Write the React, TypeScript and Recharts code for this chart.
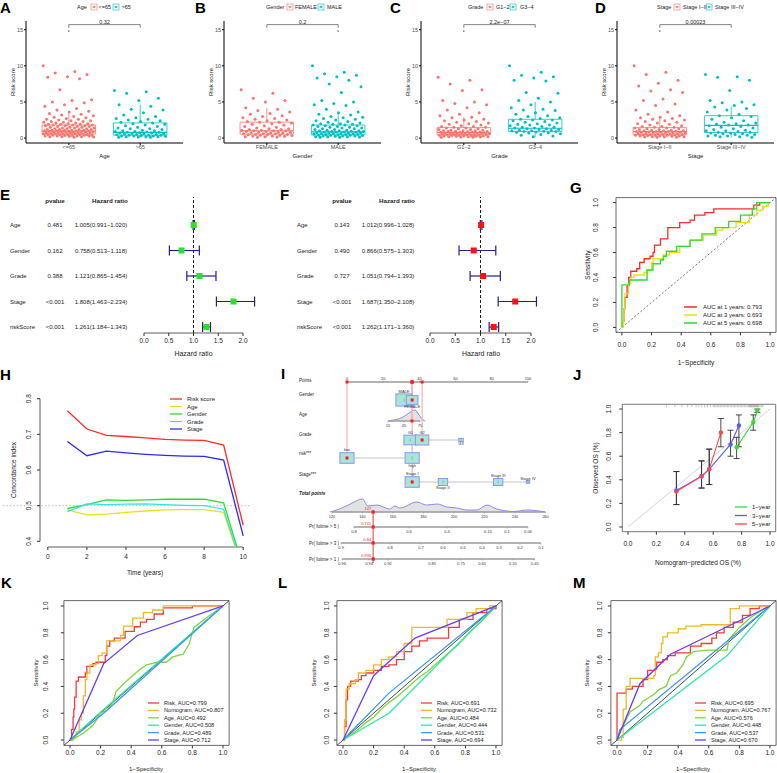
import React from 'react';
import {
  ComposedChart, Line, Scatter, Area, XAxis, YAxis,
  ReferenceLine, ReferenceArea, ErrorBar,
} from 'recharts';

const FONT = '"Liberation Sans", Arial, Helvetica, sans-serif';
const GG_RED = '#F8766D';
const GG_TEAL = '#00BFC4';

// ---------- A-D : risk score by clinical group ----------
const ageGroups = ['<=65', '>65'];
const ageLow = [10.0, 9.2, 9.0, 8.8, 8.5, 8.4, 8.2, 6.7, 5.3, 5.2, 5.0, 4.9, 4.6, 4.4, 4.1, 3.9, 3.7, 3.6, 3.4, 3.3, 3.2, 3.1, 3.0, 2.9, 2.8, 2.7, 2.6, 2.6, 2.5, 2.4, 2.4, 2.3, 2.3, 2.2, 2.2, 2.1, 2.1, 2.0, 2.0, 1.9, 1.9, 1.9, 1.8, 1.8, 1.8, 1.7, 1.7, 1.7, 1.6, 1.6, 1.6, 1.5, 1.5, 1.5, 1.4, 1.4, 1.4, 1.3, 1.3, 1.3, 1.2, 1.2, 1.2, 1.2, 1.1, 1.1, 1.1, 1.1, 1.0, 1.0, 1.0, 1.0, 0.95, 0.9, 0.9, 0.9, 0.85, 0.8, 0.8, 0.8, 0.8, 0.75, 0.7, 0.7, 0.7, 0.7, 0.65, 0.6, 0.6, 0.6, 0.6, 0.55, 0.5, 0.5, 0.5, 0.5, 0.45, 0.4, 0.4, 0.4, 0.4, 0.35, 0.3, 0.3, 0.3, 0.3, 0.25, 0.2, 0.2, 0.2, 0.15, 0.1];
const ageHigh = [6.6, 6.4, 6.2, 5.5, 5.2, 4.6, 4.4, 4.0, 3.9, 3.5, 3.2, 3.0, 2.8, 2.7, 2.6, 2.5, 2.4, 2.3, 2.2, 2.1, 2.0, 1.9, 1.8, 1.7, 1.6, 1.5, 1.4, 1.3, 1.3, 1.2, 1.1, 1.0, 1.0, 0.9, 0.9, 0.85, 0.8, 0.8, 0.75, 0.7, 0.7, 0.65, 0.6, 0.6, 0.55, 0.5, 0.5, 0.45, 0.4, 0.4, 0.4, 0.35, 0.3, 0.3, 0.3, 0.25, 0.2, 0.2, 0.2, 0.15, 0.1, 0.1];
const ageStats = [
  { lo: 0.1, q1: 0.55, med: 0.95, q3: 1.8, hi: 3.6 },
  { lo: 0.1, q1: 0.4, med: 0.8, q3: 2.1, hi: 4.6 },
];

const genderGroups = ['FEMALE', 'MALE'];
const female = [6.7, 6.2, 5.5, 5.2, 5.0, 4.2, 4.0, 3.8, 3.6, 3.4, 3.3, 3.1, 3.0, 2.8, 2.7, 2.6, 2.5, 2.4, 2.3, 2.2, 2.2, 2.1, 2.0, 1.9, 1.8, 1.7, 1.6, 1.5, 1.4, 1.3, 1.3, 1.2, 1.2, 1.1, 1.1, 1.0, 1.0, 1.0, 0.9, 0.9, 0.8, 0.8, 0.8, 0.7, 0.7, 0.7, 0.6, 0.6, 0.6, 0.5, 0.5, 0.5, 0.45, 0.4, 0.4, 0.35, 0.3, 0.3, 0.25, 0.2, 0.2, 0.15, 0.1];
const male = [10.0, 9.1, 8.9, 8.7, 8.5, 8.3, 8.0, 7.5, 7.1, 6.3, 5.2, 5.0, 4.8, 4.6, 4.5, 4.0, 3.6, 3.5, 3.3, 3.2, 3.0, 2.9, 2.8, 2.7, 2.6, 2.5, 2.4, 2.3, 2.2, 2.1, 2.0, 2.0, 1.9, 1.9, 1.8, 1.8, 1.7, 1.7, 1.6, 1.6, 1.5, 1.5, 1.4, 1.4, 1.3, 1.3, 1.2, 1.2, 1.1, 1.1, 1.0, 1.0, 1.0, 0.95, 0.9, 0.9, 0.85, 0.8, 0.8, 0.8, 0.75, 0.7, 0.7, 0.7, 0.65, 0.6, 0.6, 0.6, 0.55, 0.5, 0.5, 0.5, 0.45, 0.4, 0.4, 0.4, 0.35, 0.3, 0.3, 0.3, 0.25, 0.2, 0.2, 0.2, 0.15, 0.1, 0.1];
const genderStats = [
  { lo: 0.1, q1: 0.55, med: 1.0, q3: 2.2, hi: 4.2 },
  { lo: 0.1, q1: 0.45, med: 0.86, q3: 1.8, hi: 3.6 },
];

const gradeGroups = ['G1\u22122', 'G3\u22124'];
const gradeLow = [8.4, 8.0, 7.5, 6.7, 6.6, 5.2, 5.0, 4.8, 4.6, 4.2, 3.9, 3.5, 3.3, 3.1, 2.9, 2.8, 2.6, 2.5, 2.4, 2.3, 2.2, 2.1, 2.0, 1.9, 1.8, 1.7, 1.6, 1.6, 1.5, 1.5, 1.4, 1.4, 1.3, 1.3, 1.2, 1.2, 1.1, 1.1, 1.0, 1.0, 1.0, 0.95, 0.9, 0.9, 0.9, 0.85, 0.8, 0.8, 0.8, 0.75, 0.75, 0.7, 0.7, 0.7, 0.65, 0.65, 0.6, 0.6, 0.6, 0.55, 0.55, 0.5, 0.5, 0.5, 0.45, 0.45, 0.4, 0.4, 0.4, 0.35, 0.35, 0.3, 0.3, 0.3, 0.25, 0.25, 0.2, 0.2, 0.2, 0.15, 0.15, 0.1, 0.1];
const gradeHigh = [10.0, 9.1, 8.7, 8.5, 8.3, 8.0, 7.9, 6.3, 6.2, 5.5, 5.2, 5.0, 4.6, 4.2, 4.0, 3.9, 3.8, 3.5, 3.3, 3.1, 3.0, 2.8, 2.7, 2.6, 2.5, 2.5, 2.4, 2.3, 2.2, 2.1, 2.0, 1.9, 1.8, 1.8, 1.7, 1.6, 1.5, 1.5, 1.4, 1.4, 1.3, 1.3, 1.2, 1.2, 1.1, 1.1, 1.0, 1.0, 0.95, 0.9, 0.9, 0.85, 0.8, 0.75, 0.7, 0.6, 0.5, 0.4, 0.3, 0.2];
const gradeStats = [
  { lo: 0.1, q1: 0.45, med: 0.77, q3: 1.45, hi: 2.9 },
  { lo: 0.2, q1: 0.9, med: 1.36, q3: 2.6, hi: 5.0 },
];

const stageGroups = ['Stage I\u2212II', 'Stage III\u2212IV'];
const stageLow = [10.0, 9.1, 8.8, 8.0, 7.6, 7.2, 6.7, 6.5, 6.3, 5.4, 5.2, 4.7, 4.5, 3.9, 3.6, 3.3, 3.1, 2.9, 2.8, 2.7, 2.6, 2.5, 2.4, 2.3, 2.2, 2.1, 2.0, 1.9, 1.8, 1.7, 1.6, 1.6, 1.5, 1.5, 1.4, 1.4, 1.3, 1.3, 1.2, 1.2, 1.1, 1.1, 1.0, 1.0, 1.0, 0.95, 0.9, 0.9, 0.9, 0.85, 0.8, 0.8, 0.8, 0.75, 0.7, 0.7, 0.7, 0.65, 0.6, 0.6, 0.6, 0.55, 0.5, 0.5, 0.5, 0.45, 0.45, 0.4, 0.4, 0.4, 0.35, 0.3, 0.3, 0.3, 0.25, 0.2, 0.2, 0.2, 0.15, 0.1, 0.1];
const stageHigh = [8.8, 8.5, 8.4, 8.0, 6.6, 5.2, 5.0, 4.9, 4.6, 4.5, 4.3, 4.1, 3.9, 3.6, 3.3, 3.1, 3.0, 2.8, 2.6, 2.4, 2.2, 2.1, 2.0, 1.9, 1.8, 1.8, 1.7, 1.6, 1.5, 1.4, 1.3, 1.2, 1.1, 1.0, 1.0, 0.9, 0.8, 0.8, 0.7, 0.7, 0.6, 0.6, 0.5, 0.5, 0.4, 0.4, 0.3, 0.3, 0.2, 0.2, 0.1];
const stageStats = [
  { lo: 0.1, q1: 0.45, med: 0.9, q3: 1.45, hi: 2.9 },
  { lo: 0.1, q1: 0.77, med: 1.77, q3: 3.1, hi: 4.4 },
];
const maxRisk = 14.8;

// ---------- E, F : Cox regression ----------
const coxVars = ['Age', 'Gender', 'Grade', 'Stage', 'riskScore'];
const uniP = ['0.481', '0.162', '0.388', '<0.001', '<0.001'];
const uniHR = [1.005, 0.758, 1.121, 1.808, 1.261];
const uniLo = [0.991, 0.513, 0.865, 1.463, 1.184];
const uniHi = [1.020, 1.118, 1.454, 2.234, 1.343];
const multiP = ['0.143', '0.490', '0.727', '<0.001', '<0.001'];
const multiHR = [1.012, 0.866, 1.051, 1.687, 1.262];
const multiLo = [0.996, 0.575, 0.794, 1.350, 1.171];
const multiHi = [1.028, 1.303, 1.393, 2.108, 1.360];

// ---------- G : time-dependent ROC ----------
const rocG1 = [[0,0],[0.01,0.05],[0.015,0.15],[0.02,0.24],[0.035,0.33],[0.045,0.40],[0.06,0.45],[0.1,0.47],[0.12,0.52],[0.15,0.55],[0.19,0.57],[0.21,0.60],[0.22,0.66],[0.26,0.71],[0.31,0.80],[0.39,0.84],[0.46,0.86],[0.49,0.90],[0.56,0.92],[0.62,0.95],[0.8,0.95],[0.89,0.98],[0.93,1.0],[1,1]];
const rocG3 = [[0,0],[0.01,0.05],[0.015,0.15],[0.02,0.27],[0.045,0.35],[0.06,0.40],[0.08,0.42],[0.15,0.44],[0.17,0.46],[0.2,0.52],[0.21,0.55],[0.28,0.58],[0.32,0.60],[0.39,0.65],[0.46,0.70],[0.55,0.74],[0.64,0.78],[0.68,0.80],[0.77,0.84],[0.86,0.90],[0.91,0.94],[0.95,0.97],[0.99,1.0],[1,1]];
const rocG5 = [[0,0],[0,0.34],[0.034,0.34],[0.05,0.38],[0.17,0.38],[0.17,0.46],[0.21,0.51],[0.26,0.54],[0.28,0.57],[0.3,0.61],[0.37,0.65],[0.46,0.70],[0.54,0.75],[0.63,0.80],[0.72,0.85],[0.8,0.90],[0.88,0.95],[0.91,1.0],[1,1]];
const gLegend = ['AUC at 1 years: 0.793', 'AUC at 3 years: 0.693', 'AUC at 5 years: 0.698'];

// ---------- H : concordance index over time ----------
const cYears = [1, 2, 3, 4, 5, 6, 7, 8, 9, 10];
const cRisk = [0.766, 0.715, 0.697, 0.694, 0.690, 0.686, 0.684, 0.683, 0.670, 0.445];
const cAge = [0.488, 0.474, 0.476, 0.481, 0.485, 0.488, 0.489, 0.489, 0.481, 0.315];
const cGender = [0.492, 0.503, 0.516, 0.515, 0.516, 0.518, 0.518, 0.518, 0.508, 0.325];
const cGrade = [0.483, 0.505, 0.503, 0.504, 0.505, 0.503, 0.501, 0.500, 0.490, 0.320];
const cStage = [0.680, 0.640, 0.653, 0.648, 0.644, 0.641, 0.639, 0.638, 0.628, 0.415];

// ---------- I : nomogram ----------
const pointsTicks = [0, 20, 40, 60, 80, 100];
const genderLevels = [{ label: 'MALE', pts: 31.5, freq: 0.66 }, { label: 'FEMALE', pts: 36, freq: 0.34 }];
const ageTicks = [15, 45, 75];
const ageDensity = [[15, 0], [25, 1], [37, 2.5], [43, 4], [52, 7], [60, 10], [66, 11], [71, 8], [76, 4], [81, 1], [85, 0]];
const gradeLevels = [{ label: 'G1', pts: 35, freq: 0.42 }, { label: 'G2', pts: 41.5, freq: 0.45 }, { label: 'G3', pts: 63, freq: 0.05 }];
const riskLevels = [{ label: 'low', pts: 0, freq: 0.5 }, { label: 'high', pts: 36, freq: 0.5 }];
const stageLevels = [{ label: 'Stage I', pts: 36, freq: 0.5 }, { label: 'Stage II', pts: 53, freq: 0.22 }, { label: 'Stage III', pts: 83.5, freq: 0.22 }, { label: 'Stage IV', pts: 100, freq: 0.03 }];
const totalTicks = [120, 140, 160, 180, 200, 220, 240, 260];
const totalDensity = [[118.7, 0], [125, 3], [132, 8], [140, 13], [143.6, 6], [149.5, 7], [158, 3], [161, 6], [164.6, 4], [175.7, 10], [182, 7], [189, 8], [195.4, 5], [202, 4], [208.5, 2], [215, 2], [221.6, 7], [228, 3], [234.8, 1], [238.7, 0.5], [248.5, 2], [259.7, 0]];
const pr5Ticks = [[0.8, 134.4], [0.6, 170.5], [0.4, 195.4], [0.15, 222.3], [0.1, 234.8], [0.04, 248.5]];
const pr3Ticks = [[0.9, 126], [0.8, 158], [0.7, 178.4], [0.6, 192.8], [0.5, 205.9], [0.4, 218.4], [0.3, 229.5], [0.2, 243.3], [0.1, 257]];
const pr1Ticks = [[0.96, 126.6], [0.94, 144.3], [0.92, 156.7], [0.85, 185.6], [0.75, 204.6], [0.65, 218.4], [0.55, 238.7], [0.45, 253]];
const patient = { gender: 36, age: 60, grade: 41.5, risk: 0, stage: 36, total: 147, pr5: '0.741', pr3: '0.84', pr1: '0.936' };

// ---------- J : calibration ----------
const cal1x = [0.765, 0.882, 0.911], cal1y = [0.676, 0.887, 0.985], cal1lo = [0.58, 0.82, 0.97], cal1hi = [0.76, 0.95, 1.0];
const cal3x = [0.341, 0.518, 0.572, 0.722, 0.781], cal3y = [0.31, 0.43, 0.49, 0.70, 0.86], cal3lo = [0.19, 0.33, 0.36, 0.60, 0.68], cal3hi = [0.47, 0.56, 0.66, 0.82, 0.95];
const cal5x = [0.341, 0.518, 0.572, 0.654], cal5y = [0.30, 0.43, 0.49, 0.80], cal5lo = [0.19, 0.33, 0.36, 0.68], cal5hi = [0.47, 0.56, 0.66, 0.92];
const calRug = [0.27, 0.33, 0.38, 0.42, 0.45, 0.48, 0.5, 0.52, 0.54, 0.56, 0.58, 0.6, 0.61, 0.62, 0.63, 0.64, 0.65, 0.66, 0.67, 0.68, 0.69, 0.7, 0.71, 0.72, 0.73, 0.74, 0.75, 0.76, 0.77, 0.78, 0.79, 0.8, 0.81, 0.82, 0.83, 0.84, 0.85, 0.855, 0.86, 0.865, 0.87, 0.875, 0.88, 0.885, 0.89, 0.895, 0.9, 0.905, 0.91, 0.915, 0.92, 0.93, 0.94, 0.95];

// ---------- K, L, M : ROC of risk vs clinical features ----------
const rocNames = ['Risk', 'Nomogram', 'Age', 'Gender', 'Grade', 'Stage'];
const rocColors = ['#F23B3B', '#EDB92A', '#7ED63C', '#2EE8A6', '#3B9AEF', '#6B3CF2'];
const kAuc = ['0.799', '0.807', '0.492', '0.508', '0.489', '0.712'];
const lAuc = ['0.691', '0.732', '0.484', '0.444', '0.531', '0.694'];
const mAuc = ['0.695', '0.767', '0.576', '0.448', '0.537', '0.670'];
const rocK = [
  [[0,0],[0.01,0.08],[0.02,0.17],[0.025,0.23],[0.03,0.32],[0.04,0.44],[0.055,0.47],[0.09,0.47],[0.1,0.50],[0.11,0.55],[0.15,0.57],[0.17,0.58],[0.22,0.58],[0.23,0.63],[0.24,0.70],[0.26,0.74],[0.29,0.76],[0.36,0.81],[0.42,0.845],[0.46,0.88],[0.50,0.90],[0.55,0.94],[0.61,0.985],[0.8,0.985],[0.8,1.0],[1,1]],
  [[0,0],[0.02,0.02],[0.04,0.06],[0.06,0.15],[0.075,0.2],[0.087,0.33],[0.1,0.45],[0.11,0.50],[0.13,0.56],[0.17,0.57],[0.185,0.63],[0.21,0.65],[0.24,0.74],[0.3,0.74],[0.33,0.78],[0.35,0.85],[0.41,0.91],[0.48,0.95],[0.54,0.97],[0.61,1.0],[1,1]],
  [[0,0],[0.01,0],[0.087,0.05],[0.15,0.11],[0.2,0.2],[0.24,0.22],[0.28,0.28],[0.3,0.36],[0.35,0.42],[0.4,0.47],[0.46,0.53],[0.5,0.56],[0.57,0.58],[0.63,0.58],[0.67,0.62],[0.74,0.64],[0.78,0.72],[0.81,0.84],[0.89,0.91],[1,1]],
  [[0,0],[0.2,0.21],[1,1]],
  [[0,0],[0.22,0.2],[1,1]],
  [[0,0],[0.22,0.57],[0.44,0.78],[1,1]],
];
const rocL = [
  [[0,0],[0.01,0.1],[0.02,0.3],[0.03,0.4],[0.05,0.44],[0.1,0.45],[0.12,0.48],[0.15,0.5],[0.2,0.52],[0.25,0.55],[0.3,0.56],[0.35,0.6],[0.4,0.66],[0.45,0.7],[0.5,0.74],[0.55,0.76],[0.61,0.76],[0.69,0.84],[0.76,0.9],[0.85,0.95],[0.94,0.98],[1,1]],
  [[0,0],[0.01,0.15],[0.02,0.38],[0.04,0.42],[0.08,0.45],[0.1,0.5],[0.15,0.52],[0.2,0.56],[0.25,0.6],[0.3,0.62],[0.35,0.66],[0.4,0.72],[0.45,0.77],[0.45,0.84],[0.55,0.84],[0.68,0.9],[0.81,0.95],[0.87,0.98],[0.96,1.0],[1,1]],
  [[0,0],[0.05,0.04],[0.1,0.08],[0.15,0.13],[0.2,0.17],[0.25,0.23],[0.3,0.28],[0.35,0.32],[0.4,0.37],[0.45,0.42],[0.5,0.47],[0.55,0.51],[0.6,0.56],[0.65,0.61],[0.7,0.66],[0.75,0.71],[0.8,0.77],[0.85,0.83],[0.9,0.88],[0.95,0.94],[1,1]],
  [[0,0],[0.3,0.2],[1,1]],
  [[0,0],[0.3,0.35],[1,1]],
  [[0,0],[0.2,0.48],[0.47,0.76],[1,1]],
];
const rocM = [
  [[0,0],[0,0.35],[0.06,0.35],[0.06,0.38],[0.1,0.4],[0.17,0.4],[0.17,0.45],[0.2,0.48],[0.2,0.52],[0.25,0.53],[0.26,0.58],[0.3,0.6],[0.33,0.63],[0.38,0.65],[0.48,0.7],[0.55,0.72],[0.62,0.76],[0.65,0.8],[0.7,0.84],[0.76,0.88],[0.82,0.93],[0.87,0.98],[0.93,1],[1,1]],
  [[0,0],[0.03,0.02],[0.04,0.23],[0.06,0.40],[0.085,0.46],[0.15,0.46],[0.24,0.48],[0.25,0.62],[0.27,0.65],[0.29,0.72],[0.3,0.77],[0.33,0.8],[0.4,0.83],[0.45,0.85],[0.55,0.86],[0.74,0.88],[0.74,0.98],[0.8,1.0],[1,1]],
  [[0,0],[0.02,0.06],[0.085,0.21],[0.15,0.26],[0.17,0.29],[0.24,0.34],[0.28,0.38],[0.32,0.40],[0.35,0.48],[0.39,0.5],[0.43,0.56],[0.455,0.62],[0.5,0.66],[0.59,0.67],[0.72,0.67],[0.73,0.75],[0.8,0.84],[0.88,0.92],[0.95,0.97],[1,1]],
  [[0,0],[0.72,0.63],[1,1]],
  [[0,0],[0.02,0.08],[1,1]],
  [[0,0],[0.15,0.42],[0.35,0.64],[1,1]],
];
const rocStepped = [true, true, false, false, false, false];

// ---------- helpers ----------
const pairs = (arr: number[][]) => arr.map(([x, y]) => ({ x, y }));
const spread = (i: number) => (((i * 0.618034) % 1) - 0.5) * 0.72;
const tickStyle = (fs: number, fill = '#222') => ({ fontSize: fs, fill, fontFamily: FONT });
const rotTick = (fs: number) => (p: any) => (
  <text x={p.x} y={p.y} transform={`rotate(-90 ${p.x} ${p.y})`} textAnchor="middle" fontSize={fs} fill="#222" fontFamily={FONT}>
    {Number(p.payload.value).toFixed(1)}
  </text>
);
const fix1 = (v: number) => v.toFixed(1);

function BoxPanel({ axisX, groups, values, stats, outlierGroup }: any) {
  const cols = [GG_RED, GG_TEAL];
  const pts = values.map((vals: number[], gi: number) => vals.map((v, i) => ({ x: gi + 1 + spread(i), y: v })));
  return (
    <div style={{ position: 'absolute', left: axisX - 26, top: 0 }}>
      <ComposedChart width={195} height={175} margin={{ top: 21, right: 12, bottom: 12, left: 0 }}>
        <XAxis type="number" dataKey="x" domain={[0.4, 2.6]} ticks={[1, 2]} tickFormatter={(v: number) => groups[v - 1]} allowDataOverflow interval={0} height={20} tickSize={2} tickMargin={0.5} stroke="#000" tick={tickStyle(5.5, '#4d4d4d')} />
        <YAxis type="number" dataKey="y" domain={[-0.68, 16.2]} ticks={[0, 5, 10, 15]} allowDataOverflow interval={0} width={26} tickSize={2} tickMargin={1} stroke="#000" tick={tickStyle(5.5, '#4d4d4d')} />
        {stats.map((s: any, gi: number) => (
          <ReferenceArea key={'box' + gi} x1={gi + 1 - 0.375} x2={gi + 1 + 0.375} y1={s.q1} y2={s.q3} fill="#fff" fillOpacity={0} stroke={cols[gi]} strokeWidth={0.8} ifOverflow="visible" />
        ))}
        {stats.map((s: any, gi: number) => (
          <ReferenceLine key={'med' + gi} segment={[{ x: gi + 1 - 0.375, y: s.med }, { x: gi + 1 + 0.375, y: s.med }]} stroke={cols[gi]} strokeWidth={1.2} />
        ))}
        {stats.map((s: any, gi: number) => (
          <ReferenceLine key={'wu' + gi} segment={[{ x: gi + 1, y: s.q3 }, { x: gi + 1, y: s.hi }]} stroke={cols[gi]} strokeWidth={0.8} />
        ))}
        {stats.map((s: any, gi: number) => (
          <ReferenceLine key={'wl' + gi} segment={[{ x: gi + 1, y: s.lo }, { x: gi + 1, y: s.q1 }]} stroke={cols[gi]} strokeWidth={0.8} />
        ))}
        <ReferenceLine segment={[{ x: 1, y: 15.7 }, { x: 2, y: 15.7 }]} stroke="#333" strokeWidth={0.6} ifOverflow="visible" />
        <ReferenceLine segment={[{ x: 1, y: 15.7 }, { x: 1, y: 15.25 }]} stroke="#333" strokeWidth={0.6} ifOverflow="visible" />
        <ReferenceLine segment={[{ x: 2, y: 15.7 }, { x: 2, y: 15.25 }]} stroke="#333" strokeWidth={0.6} ifOverflow="visible" />
        {pts.map((d: any, gi: number) => (
          <Scatter key={'pts' + gi} data={d} isAnimationActive={false}
            shape={(p: any) => <circle cx={p.cx} cy={p.cy} r={1.5} fill={cols[gi]} />} />
        ))}
        <Scatter data={[{ x: outlierGroup, y: maxRisk }]} isAnimationActive={false}
          shape={(p: any) => <circle cx={p.cx} cy={p.cy} r={0.8} fill="#666" />} />
      </ComposedChart>
    </div>
  );
}

function ForestChart({ left, zeroPx, ppu, hr, lo, hi, color }: any) {
  const mLeft = zeroPx - left;
  const right = 262 - mLeft - 2.3 * ppu;
  const data = hr.map((h: number, i: number) => ({ x: h, y: i + 1, err: [h - lo[i], hi[i] - h] }));
  return (
    <div style={{ position: 'absolute', left, top: 185 }}>
      <ComposedChart width={262} height={175} margin={{ top: 12, left: mLeft, right, bottom: 11 }}>
        <XAxis type="number" dataKey="x" domain={[0, 2.3]} ticks={[0, 0.5, 1, 1.5, 2]} allowDataOverflow interval={0} axisLine={false} tickSize={3} tickMargin={2.7} height={16} stroke="#333" tickFormatter={fix1} tick={tickStyle(6.5)} />
        <YAxis type="number" dataKey="y" domain={[-0.098, 5.235]} reversed hide allowDataOverflow />
        <ReferenceLine segment={[{ x: 0, y: 5.235 }, { x: 2, y: 5.235 }]} stroke="#333" strokeWidth={0.8} ifOverflow="visible" />
        <ReferenceLine x={1} stroke="#222" strokeWidth={1} strokeDasharray="3 2" />
        <Scatter data={data} isAnimationActive={false}
          shape={(p: any) => <rect x={p.cx - 3} y={p.cy - 3} width={6} height={6} fill={color} />}>
          <ErrorBar dataKey="err" direction="x" width={5} stroke="#1F1F8F" strokeWidth={1.2} />
        </Scatter>
      </ComposedChart>
    </div>
  );
}

function RocPanel({ left, top, width, height, plot, yTickMargin, xTickMargin, curves, colors, stepped, dashedDiag }: any) {
  const margin = { top: plot.y0 - top, left: plot.x0 - left - 30, right: left + width - plot.x1, bottom: top + height - plot.y1 - 16 };
  return (
    <div style={{ position: 'absolute', left, top }}>
      <ComposedChart width={width} height={height} margin={margin}>
        <XAxis type="number" dataKey="x" domain={[-0.04, 1.04]} ticks={[0, 0.2, 0.4, 0.6, 0.8, 1]} allowDataOverflow interval={0} axisLine={false} tickSize={3} tickMargin={xTickMargin} height={16} stroke="#333" tickFormatter={fix1} tick={tickStyle(6.5)} />
        <YAxis type="number" dataKey="y" domain={[-0.04, 1.04]} ticks={[0, 0.2, 0.4, 0.6, 0.8, 1]} allowDataOverflow interval={0} axisLine={false} tickSize={3} tickMargin={yTickMargin} width={30} stroke="#333" tick={rotTick(6.5)} />
        <ReferenceArea x1={-0.04} x2={1.04} y1={-0.04} y2={1.04} fill="none" stroke="#444" strokeWidth={0.8} ifOverflow="visible" />
        {dashedDiag
          ? <ReferenceLine segment={[{ x: -0.04, y: -0.04 }, { x: 1.04, y: 1.04 }]} stroke="#555" strokeWidth={0.8} strokeDasharray="2 2" />
          : <ReferenceLine segment={[{ x: -0.04, y: -0.04 }, { x: 1.04, y: 1.04 }]} stroke="#333" strokeWidth={0.9} />}
        {curves.map((c: number[][], i: number) => (
          <Line key={'roc' + i} data={pairs(c)} dataKey="y" type={stepped[i] ? 'stepAfter' : 'linear'} stroke={colors[i]} strokeWidth={1.3} dot={false} isAnimationActive={false} />
        ))}
      </ComposedChart>
    </div>
  );
}

// nomogram layout: 1.81 px per point, 0 points at x = 347; rows measured from top = 370
const NX0 = 325, NY0 = 370, NW = 230, NH = 205;
const ROW = { points: 12, gender: 30, age: 51, grade: 70, risk: 88, stage: 112, total: 142, pr5: 157, pr3: 173, pr1: 189 };
const LABEL_BELOW = new Set(['FEMALE', 'G3', 'high', 'Stage II']);
const ageToPts = (a: number) => 18.3 + 0.293 * a;
const totalToPts = (t: number) => (t - 129.84) * 0.8425;

const boxShape = (p: any) => {
  const s = 20 * Math.sqrt(p.payload.freq);
  const h = s * 0.75;
  const below = LABEL_BELOW.has(p.payload.label);
  return (
    <g>
      <rect x={p.cx - s / 2} y={p.cy - h / 2} width={s} height={h} fill="#A9E4D8" stroke="#8C97EC" strokeWidth={1} />
      <line x1={p.cx} x2={p.cx} y1={p.cy - 1.5} y2={p.cy + 1.5} stroke="#666" strokeWidth={0.4} />
      <text x={p.cx} y={below ? p.cy + h / 2 + 3.8 : p.cy - h / 2 - 1.2} fontSize={4} textAnchor="middle" fill="#333" fontFamily={FONT}>{p.payload.label}</text>
    </g>
  );
};
const tickShape = (up: boolean) => (p: any) => (
  <g>
    <line x1={p.cx} x2={p.cx} y1={p.cy} y2={p.cy + (up ? -1.5 : 1.5)} stroke="#888" strokeWidth={0.5} />
    <text x={p.cx} y={up ? p.cy - 2.5 : p.cy + 6} fontSize={4} textAnchor="middle" fill="#333" fontFamily={FONT}>{p.payload.label}</text>
  </g>
);
const redDot = (p: any) => <rect x={p.cx - 1.5} y={p.cy - 1.5} width={3} height={3} fill="#FF1A1A" />;
const redLabelled = (p: any) => (
  <g>
    <rect x={p.cx - 1.6} y={p.cy - 1.6} width={3.2} height={3.2} fill="#FF1A1A" />
    <text x={p.cx - 2} y={p.cy - 2.5} fontSize={4} textAnchor="end" fill="#FF1A1A" fontFamily={FONT}>{p.payload.label}</text>
  </g>
);

function Nomogram() {
  const lvl = (arr: any[], row: number) => arr.map((l) => ({ x: l.pts, y: row, freq: l.freq, label: l.label }));
  const boxes = [
    ...lvl(genderLevels, ROW.gender), ...lvl(gradeLevels, ROW.grade),
    ...lvl(riskLevels, ROW.risk), ...lvl(stageLevels, ROW.stage),
  ];
  const ticksUp = pointsTicks.map((t) => ({ x: t, y: ROW.points, label: String(t) }));
  const ticksDown = [
    ...ageTicks.map((a) => ({ x: ageToPts(a), y: ROW.age, label: String(a) })),
    ...totalTicks.map((t) => ({ x: totalToPts(t), y: ROW.total, label: String(t) })),
    ...pr5Ticks.map(([p, t]) => ({ x: totalToPts(t), y: ROW.pr5, label: String(p) })),
    ...pr3Ticks.map(([p, t]) => ({ x: totalToPts(t), y: ROW.pr3, label: String(p) })),
    ...pr1Ticks.map(([p, t]) => ({ x: totalToPts(t), y: ROW.pr1, label: String(p) })),
  ];
  const chosen = [
    { x: patient.gender, y: ROW.gender }, { x: ageToPts(patient.age), y: ROW.age },
    { x: patient.grade, y: ROW.grade }, { x: patient.risk, y: ROW.risk }, { x: patient.stage, y: ROW.stage },
  ];
  const tx = totalToPts(patient.total);
  const outcome = [
    { x: tx, y: ROW.total, label: String(patient.total) },
    { x: tx, y: ROW.pr5, label: patient.pr5 },
    { x: tx, y: ROW.pr3, label: patient.pr3 },
    { x: tx, y: ROW.pr1, label: patient.pr1 },
  ];
  const axisSeg = (x1: number, x2: number, y: number, k: string) => (
    <ReferenceLine key={k} segment={[{ x: x1, y }, { x: x2, y }]} stroke="#9A9A9A" strokeWidth={1.4} ifOverflow="visible" />
  );
  const linkSeg = (arr: any[], y: number, k: string) => (
    <ReferenceLine key={k} segment={[{ x: Math.min(...arr.map((l) => l.pts)), y }, { x: Math.max(...arr.map((l) => l.pts)), y }]} stroke="#E2E2E2" strokeWidth={2} ifOverflow="visible" />
  );
  return (
    <div style={{ position: 'absolute', left: NX0, top: NY0 }}>
      <ComposedChart width={NW} height={NH} margin={{ top: 0, right: 0, bottom: 0, left: 0 }}>
        <XAxis type="number" dataKey="x" domain={[(NX0 - 347) / 1.81, (NX0 + NW - 347) / 1.81]} hide allowDataOverflow />
        <YAxis type="number" dataKey="y" domain={[0, NH]} reversed hide allowDataOverflow />
        {linkSeg(genderLevels, ROW.gender, 'lg')}
        {linkSeg(gradeLevels, ROW.grade, 'lgr')}
        {linkSeg(riskLevels, ROW.risk, 'lr')}
        {linkSeg(stageLevels, ROW.stage, 'ls')}
        {axisSeg(0, 100, ROW.points, 'ap')}
        {axisSeg(ageToPts(ageTicks[0]), ageToPts(ageTicks[ageTicks.length - 1]), ROW.age, 'aa')}
        {axisSeg(totalToPts(totalTicks[0]), totalToPts(totalTicks[totalTicks.length - 1]), ROW.total, 'at')}
        {axisSeg(totalToPts(pr5Ticks[0][1]), totalToPts(pr5Ticks[pr5Ticks.length - 1][1]), ROW.pr5, 'a5')}
        {axisSeg(totalToPts(pr3Ticks[0][1]), totalToPts(pr3Ticks[pr3Ticks.length - 1][1]), ROW.pr3, 'a3')}
        {axisSeg(totalToPts(pr1Ticks[0][1]), totalToPts(pr1Ticks[pr1Ticks.length - 1][1]), ROW.pr1, 'a1')}
        {chosen.map((c, i) => (
          <ReferenceLine key={'pk' + i} segment={[{ x: c.x, y: c.y }, { x: c.x, y: ROW.points }]} stroke="#F6B3B3" strokeWidth={1.2} ifOverflow="visible" />
        ))}
        <ReferenceLine segment={[{ x: tx, y: ROW.total - 2 }, { x: tx, y: ROW.pr1 + 4 }]} stroke="#F07C7C" strokeWidth={1.5} ifOverflow="visible" />
        <Area data={ageDensity.map(([a, d]) => ({ x: ageToPts(a), y: ROW.age - d }))} dataKey="y" baseValue={ROW.age} type="monotone" stroke="#7070F0" strokeWidth={0.8} fill="#E2E2E2" fillOpacity={1} isAnimationActive={false} />
        <Area data={totalDensity.map(([t, d]) => ({ x: totalToPts(t), y: ROW.total - d }))} dataKey="y" baseValue={ROW.total} type="monotone" stroke="#7070F0" strokeWidth={0.8} fill="#E2E2E2" fillOpacity={1} isAnimationActive={false} />
        <Scatter data={boxes} shape={boxShape} isAnimationActive={false} />
        <Scatter data={ticksUp} shape={tickShape(true)} isAnimationActive={false} />
        <Scatter data={ticksDown} shape={tickShape(false)} isAnimationActive={false} />
        <Scatter data={chosen} shape={redDot} isAnimationActive={false} />
        <Scatter data={chosen.map((c) => ({ x: c.x, y: ROW.points }))} shape={redDot} isAnimationActive={false} />
        <Scatter data={outcome} shape={redLabelled} isAnimationActive={false} />
      </ComposedChart>
    </div>
  );
}

function ConcordanceChart() {
  const data = cYears.map((t, i) => ({ t, risk: cRisk[i], age: cAge[i], gender: cGender[i], grade: cGrade[i], stage: cStage[i] }));
  const series = [['risk', '#FF2A2A'], ['age', '#E3E31A'], ['gender', '#2EDB2E'], ['grade', '#2EE6E6'], ['stage', '#2A2AF0']];
  return (
    <div style={{ position: 'absolute', left: 0, top: 380 }}>
      <ComposedChart width={260} height={200} data={data} margin={{ top: 13, left: 10, right: 9, bottom: 13 }}>
        <XAxis type="number" dataKey="t" domain={[-0.4, 10.4]} ticks={[0, 2, 4, 6, 8, 10]} allowDataOverflow interval={0} axisLine={false} tickSize={3} tickMargin={4.7} height={20} stroke="#333" tick={tickStyle(6.5)} />
        <YAxis type="number" domain={[0.384, 0.816]} ticks={[0.4, 0.5, 0.6, 0.7, 0.8]} allowDataOverflow interval={0} axisLine={false} tickSize={3} tickMargin={5.7} width={30} stroke="#333" tick={rotTick(6.5)} />
        <ReferenceLine segment={[{ x: 0, y: 0.384 }, { x: 10, y: 0.384 }]} stroke="#333" strokeWidth={0.8} ifOverflow="visible" />
        <ReferenceLine segment={[{ x: -0.4, y: 0.4 }, { x: -0.4, y: 0.8 }]} stroke="#333" strokeWidth={0.8} ifOverflow="visible" />
        <ReferenceLine segment={[{ x: -2.3, y: 0.5 }, { x: 10.4, y: 0.5 }]} stroke="#BBBBBB" strokeWidth={1} strokeDasharray="1.5 2" ifOverflow="visible" />
        {series.map(([k, c]) => (
          <Line key={k} dataKey={k} type="linear" stroke={c} strokeWidth={1.3} dot={false} isAnimationActive={false} />
        ))}
      </ComposedChart>
    </div>
  );
}

function CalibrationChart() {
  const sets = [
    { x: cal1x, y: cal1y, lo: cal1lo, hi: cal1hi, c: '#33DD33' },
    { x: cal3x, y: cal3y, lo: cal3lo, hi: cal3hi, c: '#5A5AFF' },
    { x: cal5x, y: cal5y, lo: cal5lo, hi: cal5hi, c: '#FF4A4A' },
  ];
  return (
    <div style={{ position: 'absolute', left: 560, top: 385 }}>
      <ComposedChart width={217} height={190} margin={{ top: 19.3, left: 32.3, right: 1.3, bottom: 23.3 }}>
        <XAxis type="number" dataKey="x" domain={[-0.04, 1.04]} ticks={[0, 0.2, 0.4, 0.6, 0.8, 1]} allowDataOverflow interval={0} axisLine={false} tickSize={3} tickMargin={7} height={20} stroke="#333" tickFormatter={fix1} tick={tickStyle(6.5)} />
        <YAxis type="number" dataKey="y" domain={[-0.04, 1.04]} ticks={[0, 0.2, 0.4, 0.6, 0.8, 1]} allowDataOverflow interval={0} axisLine={false} tickSize={3} tickMargin={8} width={30} stroke="#333" tick={rotTick(6.5)} />
        <ReferenceArea x1={-0.04} x2={1.04} y1={-0.04} y2={1.04} fill="none" stroke="#555" strokeWidth={0.8} ifOverflow="visible" />
        <ReferenceLine segment={[{ x: 0, y: 0 }, { x: 1, y: 1 }]} stroke="#D5D5D5" strokeWidth={1} />
        <Scatter data={calRug.map((v) => ({ x: v, y: 1.04 }))} isAnimationActive={false}
          shape={(p: any) => <line x1={p.cx} x2={p.cx} y1={p.cy} y2={p.cy + 3} stroke="#888" strokeWidth={0.5} />} />
        {sets.map((s, i) => (
          <Line key={'cl' + i} data={s.x.map((x, j) => ({ x, y: s.y[j] }))} dataKey="y" type="linear" stroke={s.c} strokeWidth={1.1}
            dot={{ r: 1.7, fill: s.c, stroke: s.c }} isAnimationActive={false} />
        ))}
        {sets.map((s, i) => (
          <Scatter key={'ce' + i} data={s.x.map((x, j) => ({ x, y: s.y[j], err: [s.y[j] - s.lo[j], s.hi[j] - s.y[j]] }))} isAnimationActive={false}
            shape={(p: any) => <circle cx={p.cx} cy={p.cy} r={1.2} fill={s.c} />}>
            <ErrorBar dataKey="err" direction="y" width={3} stroke="#333" strokeWidth={0.9} />
          </Scatter>
        ))}
      </ComposedChart>
    </div>
  );
}

function T({ x, y, children, size = 6, anchor = 'start', weight = 'normal', rotate = false, color = '#222', italic = false }: any) {
  return (
    <text x={x} y={y} fontSize={size} textAnchor={anchor} dominantBaseline="central" fontWeight={weight}
      fontStyle={italic ? 'italic' : 'normal'} fill={color} fontFamily={FONT}
      transform={rotate ? `rotate(-90 ${x} ${y})` : undefined}>{children}</text>
  );
}

function KeyIcon({ x, y, c }: any) {
  return (
    <g>
      <rect x={x} y={y - 3} width={6} height={6} fill="none" stroke={c} strokeWidth={0.6} />
      <line x1={x + 0.8} x2={x + 5.2} y1={y} y2={y} stroke={c} strokeWidth={0.6} />
      <circle cx={x + 3} cy={y} r={1} fill={c} />
    </g>
  );
}

function Overlay() {
  const letters = [['A', 0, 7], ['B', 195, 7], ['C', 390, 7], ['D', 595, 7], ['E', 0, 194], ['F', 280, 194], ['G', 570, 187], ['H', 0, 374], ['I', 281, 373], ['J', 573, 374], ['K', 1, 582], ['L', 278, 582], ['M', 573, 582]];
  const boxLegends = [
    { title: 'Age', tx: 77, keys: [[91, 98.5], [113, 121.5]], groups: ageGroups },
    { title: 'Gender', tx: 266, keys: [[287, 295], [318, 327]], groups: genderGroups },
    { title: 'Grade', tx: 468, keys: [[487, 496], [510, 520]], groups: gradeGroups },
    { title: 'Stage', tx: 657, keys: [[674, 683], [706, 715]], groups: stageGroups },
  ];
  const boxAxes = [[26, 'Age', '0.32'], [224, 'Gender', '0.2'], [421, 'Grade', '2.2e\u221207'], [617, 'Stage', '0.00023']];
  const cox = [{ dx: 0, p: uniP, hr: uniHR, lo: uniLo, hi: uniHi }, { dx: 287, p: multiP, hr: multiHR, lo: multiLo, hi: multiHi }];
  const hLegend = [['Risk score', '#FF2A2A'], ['Age', '#E3E31A'], ['Gender', '#2EDB2E'], ['Grade', '#2EE6E6'], ['Stage', '#2A2AF0']];
  const nomoRows = [['Points', 380], ['Gender', 394], ['Age', 414], ['Grade', 434], ['risk***', 453], ['Stage***', 474]];
  const prRows = [['Pr( futime > 5 )', 526], ['Pr( futime > 3 )', 543], ['Pr( futime > 1 )', 559]];
  const rocPanels = [{ dx: 0, auc: kAuc, sens: 36 }, { dx: 273, auc: lAuc, sens: 314 }, { dx: 547, auc: mAuc, sens: 587 }];
  return (
    <svg width={777} height={773} style={{ position: 'absolute', left: 0, top: 0, pointerEvents: 'none' }}>
      {letters.map(([l, x, y]: any) => <T key={l} x={x} y={y} size={15} weight="bold" color="#000">{l}</T>)}
      {boxLegends.map((b, i) => (
        <g key={'bl' + i}>
          <T x={b.tx} y={7} size={5.5}>{b.title}</T>
          {b.keys.map(([ix, lx], k) => (
            <g key={k}>
              <KeyIcon x={ix} y={7} c={k === 0 ? GG_RED : GG_TEAL} />
              <T x={lx} y={7} size={5.5}>{b.groups[k]}</T>
            </g>
          ))}
        </g>
      ))}
      {boxAxes.map(([ax, t, p]: any, i) => (
        <g key={'ba' + i}>
          <T x={ax - 13} y={82} size={6} rotate anchor="middle">Risk score</T>
          <T x={ax + 78.5} y={155.5} size={6} anchor="middle">{t}</T>
          <T x={ax + 78.5} y={21.5} size={5.5} anchor="middle">{p}</T>
        </g>
      ))}
      {cox.map((c, ci) => (
        <g key={'cx' + ci}>
          <T x={55 + c.dx} y={200} size={6.2} weight="bold" anchor="middle">pvalue</T>
          <T x={110 + c.dx} y={200} size={6.2} weight="bold" anchor="middle">Hazard ratio</T>
          {coxVars.map((v, i) => (
            <g key={v}>
              <T x={10 + c.dx} y={225 + i * 25.5} size={6}>{v}</T>
              <T x={55 + c.dx} y={225 + i * 25.5} size={6} anchor="middle">{c.p[i]}</T>
              <T x={101 + c.dx} y={225 + i * 25.5} size={6} anchor="middle">{`${c.hr[i].toFixed(3)}(${c.lo[i].toFixed(3)}\u2212${c.hi[i].toFixed(3)})`}</T>
            </g>
          ))}
          <T x={ci === 0 ? 193.5 : 481} y={353} size={7} anchor="middle">Hazard ratio</T>
        </g>
      ))}
      <T x={587} y={265} size={6.5} rotate anchor="middle">Sensitivity</T>
      <T x={696} y={362} size={6.5} anchor="middle">1{'\u2212'}Specificity</T>
      {gLegend.map((g, i) => (
        <g key={'gl' + i}>
          <line x1={684} x2={697} y1={307 + i * 8} y2={307 + i * 8} stroke={['#FF2A2A', '#E3E31A', '#2EDB2E'][i]} strokeWidth={1.5} />
          <T x={703} y={307 + i * 8} size={6}>{g}</T>
        </g>
      ))}
      <T x={13} y={470} size={6.5} rotate anchor="middle">Concordance index</T>
      <T x={145} y={572} size={6.5} anchor="middle">Time (years)</T>
      {hLegend.map(([n, c], i) => (
        <g key={'hl' + i}>
          <line x1={170} x2={182} y1={399 + i * 7.5} y2={399 + i * 7.5} stroke={c} strokeWidth={1.3} />
          <T x={187} y={399 + i * 7.5} size={6}>{n}</T>
        </g>
      ))}
      {nomoRows.map(([n, y]: any) => <T key={n} x={299} y={y} size={4.5}>{n}</T>)}
      <T x={299} y={493} size={4.7} weight="bold" italic>Total points</T>
      {prRows.map(([n, y]: any) => <T key={n} x={309} y={y} size={4.5}>{n}</T>)}
      <T x={595} y={468} size={6.5} rotate anchor="middle">Observed OS (%)</T>
      <T x={698} y={562} size={6.5} anchor="middle">Nomogram{'\u2212'}predicted OS (%)</T>
      {['1\u2212year', '3\u2212year', '5\u2212year'].map((n, i) => (
        <g key={'jl' + i}>
          <line x1={735} x2={747} y1={507 + i * 8.5} y2={507 + i * 8.5} stroke={['#33DD33', '#5A5AFF', '#FF4A4A'][i]} strokeWidth={1.3} />
          <T x={752} y={507 + i * 8.5} size={6}>{n}</T>
        </g>
      ))}
      {rocPanels.map((r, pi) => (
        <g key={'rp' + pi}>
          <T x={r.sens} y={673} size={6} rotate anchor="middle">Sensitivity</T>
          <T x={146 + r.dx} y={769} size={6} anchor="middle">1{'\u2212'}Specificity</T>
          {rocNames.map((n, i) => (
            <g key={n}>
              <line x1={148 + r.dx} x2={159 + r.dx} y1={703 + i * 7.4} y2={703 + i * 7.4} stroke={rocColors[i]} strokeWidth={1.3} />
              <T x={164 + r.dx} y={703 + i * 7.4} size={5.6}>{`${n}, AUC=${r.auc[i]}`}</T>
            </g>
          ))}
        </g>
      ))}
    </svg>
  );
}

export default function App() {
  return (
    <div style={{ position: 'fixed', left: 0, top: 0, width: 777, height: 773, overflow: 'hidden', background: '#fff', fontFamily: FONT }}>
      <BoxPanel axisX={26} groups={ageGroups} values={[ageLow, ageHigh]} stats={ageStats} outlierGroup={1} />
      <BoxPanel axisX={224} groups={genderGroups} values={[female, male]} stats={genderStats} outlierGroup={2} />
      <BoxPanel axisX={421} groups={gradeGroups} values={[gradeLow, gradeHigh]} stats={gradeStats} outlierGroup={1} />
      <BoxPanel axisX={617} groups={stageGroups} values={[stageLow, stageHigh]} stats={stageStats} outlierGroup={1} />
      <ForestChart left={0} zeroPx={144} ppu={49.5} hr={uniHR} lo={uniLo} hi={uniHi} color="#2BE02B" />
      <ForestChart left={287} zeroPx={430} ppu={50.5} hr={multiHR} lo={multiLo} hi={multiHi} color="#FF1010" />
      <RocPanel left={560} top={185} width={217} height={195} plot={{ x0: 616, x1: 776, y0: 197.6, y1: 332.4 }}
        yTickMargin={14.7} xTickMargin={7.3} curves={[rocG1, rocG3, rocG5]} colors={['#FF2A2A', '#E3E31A', '#2EDB2E']} stepped={[true, true, true]} dashedDiag />
      <ConcordanceChart />
      <Nomogram />
      <CalibrationChart />
      <RocPanel left={0} top={585} width={262} height={188} plot={{ x0: 63.9, x1: 229.1, y0: 600.6, y1: 745.4 }}
        yTickMargin={12.6} xTickMargin={2.3} curves={rocK} colors={rocColors} stepped={rocStepped} />
      <RocPanel left={273} top={585} width={262} height={188} plot={{ x0: 336.9, x1: 502.1, y0: 600.6, y1: 745.4 }}
        yTickMargin={4.6} xTickMargin={2.3} curves={rocL} colors={rocColors} stepped={rocStepped} />
      <RocPanel left={547} top={585} width={230} height={188} plot={{ x0: 610.9, x1: 776.1, y0: 600.6, y1: 745.4 }}
        yTickMargin={5.6} xTickMargin={2.3} curves={rocM} colors={rocColors} stepped={rocStepped} />
      <Overlay />
    </div>
  );
}
